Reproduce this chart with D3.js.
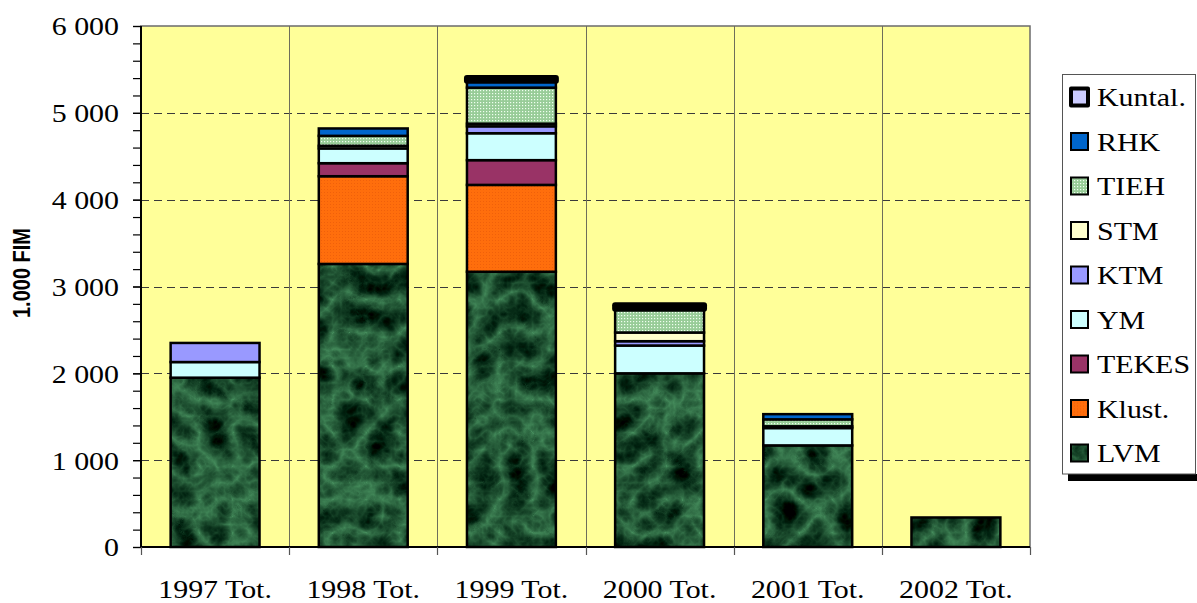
<!DOCTYPE html>
<html>
<head>
<meta charset="utf-8">
<script src="https://cdn.jsdelivr.net/npm/d3@7"></script>
<style>
  html, body { margin: 0; padding: 0; background: #fff; }
  svg { display: block; }
  .serif { font-family: "Liberation Serif", "Times New Roman", serif; fill: #000; }
</style>
</head>
<body>
<svg id="chart" width="1197" height="603"></svg>
<script>
// Funding by source, 1 000 FIM per year
const categories = ["1997 Tot.", "1998 Tot.", "1999 Tot.", "2000 Tot.", "2001 Tot.", "2002 Tot."];
const seriesNames = ["LVM", "Klust.", "TEKES", "YM", "KTM", "STM", "TIEH", "RHK", "Kuntal."];
const LVM    = [1950, 3260, 3170, 2000, 1170, 340];
const Klust  = [0, 1010, 1000, 0, 0, 0];
const TEKES  = [0, 150, 285, 0, 0, 0];
const YM     = [180, 170, 310, 320, 200, 0];
const KTM    = [220, 0, 80, 50, 0, 0];
const STM    = [0, 30, 30, 100, 20, 0];
const TIEH   = [0, 115, 415, 275, 80, 0];
const RHK    = [0, 85, 80, 0, 60, 0];
const Kuntal = [0, 0, 30, 40, 0, 0];
const yTicks = [0, 1000, 2000, 3000, 4000, 5000, 6000];
const yTitle = "1.000 FIM";

const seriesValues = [LVM, Klust, TEKES, YM, KTM, STM, TIEH, RHK, Kuntal];
const rows = categories.map((c, i) => {
  const r = { cat: c };
  seriesNames.forEach((s, k) => r[s] = seriesValues[k][i]);
  return r;
});

const svg = d3.select("#chart");
const defs = svg.append("defs");

// Green marble texture for LVM: dark base with soft, lighter veins
const marble = defs.append("filter").attr("id", "marble")
  .attr("x", 0).attr("y", 0).attr("width", 1).attr("height", 1)
  .attr("filterUnits", "objectBoundingBox")
  .attr("color-interpolation-filters", "sRGB");
marble.append("feTurbulence").attr("type", "turbulence")
  .attr("baseFrequency", "0.03").attr("numOctaves", 4).attr("seed", 11).attr("result", "noise");
marble.append("feColorMatrix").attr("in", "noise").attr("type", "matrix")
  .attr("values", "-0.45 0 0 0 0.27  -0.7 0 0 0 0.55  -0.5 0 0 0 0.36  0 0 0 0 1")
  .attr("result", "col");
marble.append("feComposite").attr("in", "col").attr("in2", "SourceGraphic").attr("operator", "in");

// Dotted light green fill for TIEH
const dots = defs.append("pattern").attr("id", "tieh")
  .attr("width", 3).attr("height", 3).attr("patternUnits", "userSpaceOnUse");
dots.append("rect").attr("width", 3).attr("height", 3).attr("fill", "#98cc98");
dots.append("rect").attr("width", 1.2).attr("height", 1.2).attr("fill", "#f0fff0");

// Fine grain for the orange series
const grain = defs.append("pattern").attr("id", "klust")
  .attr("width", 3).attr("height", 3).attr("patternUnits", "userSpaceOnUse");
grain.append("rect").attr("width", 3).attr("height", 3).attr("fill", "#ff6e0c");
grain.append("rect").attr("width", 1).attr("height", 1).attr("fill", "#f0600a");

const fills = {
  "LVM": "#234f30",
  "Klust.": "url(#klust)",
  "TEKES": "#993366",
  "YM": "#ccffff",
  "KTM": "#9999ff",
  "STM": "#ffffcc",
  "TIEH": "url(#tieh)",
  "RHK": "#0066cc",
  "Kuntal.": "#ccccff"
};

const plotLeft = 141, plotRight = 1030, plotTop = 26, plotBottom = 547;

const x = d3.scaleBand().domain(categories).range([plotLeft, plotRight])
  .paddingInner(0.4).paddingOuter(0.2);
const y = d3.scaleLinear().domain([0, 6000]).range([plotBottom, plotTop]);
const step = x.step();
const boundary = c => x(c) - (step - x.bandwidth()) / 2;

// Plot area
svg.append("rect").attr("x", plotLeft).attr("y", plotTop)
  .attr("width", plotRight - plotLeft).attr("height", plotBottom - plotTop)
  .attr("fill", "#ffff99").attr("stroke", "#6b6b6b").attr("stroke-width", 1.5);

// Horizontal dashed gridlines
svg.append("g").selectAll("line").data(yTicks.filter(v => v > 0 && v < 6000)).join("line")
  .attr("x1", plotLeft).attr("x2", plotRight)
  .attr("y1", d => Math.round(y(d)) + 0.5).attr("y2", d => Math.round(y(d)) + 0.5)
  .attr("stroke", "#3a3a3a").attr("stroke-width", 1).attr("stroke-dasharray", "8,5");

// Vertical gridlines between categories
svg.append("g").selectAll("line").data(categories.slice(1)).join("line")
  .attr("x1", d => Math.round(boundary(d)) + 0.5).attr("x2", d => Math.round(boundary(d)) + 0.5)
  .attr("y1", plotTop).attr("y2", plotBottom)
  .attr("stroke", "#6e6e5a").attr("stroke-width", 1);

// Stacked bars
const stack = d3.stack().keys(seriesNames)(rows);
const barG = svg.append("g");
stack.forEach(layer => {
  const key = layer.key;
  const segs = layer.filter(d => d[1] - d[0] > 0);
  const g = barG.append("g");
  if (key === "LVM") {
    g.selectAll("rect.base").data(segs).join("rect").attr("class", "base")
      .attr("x", d => x(d.data.cat)).attr("width", x.bandwidth())
      .attr("y", d => y(d[1])).attr("height", d => y(d[0]) - y(d[1]))
      .attr("fill", "#1d4a2a");
    g.selectAll("rect.tex").data(segs).join("rect").attr("class", "tex")
      .attr("x", d => x(d.data.cat)).attr("width", x.bandwidth())
      .attr("y", d => y(d[1])).attr("height", d => y(d[0]) - y(d[1]))
      .attr("fill", "#000").attr("filter", "url(#marble)");
    g.selectAll("rect.edge").data(segs).join("rect").attr("class", "edge")
      .attr("x", d => x(d.data.cat)).attr("width", x.bandwidth())
      .attr("y", d => y(d[1])).attr("height", d => y(d[0]) - y(d[1]))
      .attr("fill", "none").attr("stroke", "#000").attr("stroke-width", 2.5);
  } else {
    g.selectAll("rect").data(segs).join("rect")
      .attr("x", d => x(d.data.cat)).attr("width", x.bandwidth())
      .attr("y", d => y(d[1])).attr("height", d => y(d[0]) - y(d[1]))
      .attr("fill", fills[key]).attr("stroke", "#000")
      .attr("stroke-width", key === "Kuntal." ? 6 : 2.5)
      .attr("stroke-linejoin", key === "Kuntal." ? "round" : "miter");
  }
});

// Y axis with minor ticks every 200
const fmt = d3.formatLocale({ decimal: ",", thousands: "\u2009", grouping: [3], currency: ["", ""] }).format(",");
svg.append("g").attr("transform", `translate(${plotLeft},0)`)
  .call(d3.axisLeft(y).tickValues(d3.range(0, 6001, 200)).tickSize(8).tickFormat(""))
  .call(g => g.select(".domain").remove())
  .call(g => g.selectAll("line").attr("stroke", "#000").attr("stroke-width", 1.2));
const yAxis = svg.append("g").attr("transform", `translate(${plotLeft},0)`)
  .call(d3.axisLeft(y).tickValues(yTicks).tickSize(8).tickPadding(14)
    .tickFormat(d => fmt(d).replace("\u2009", " ")));
yAxis.select(".domain").attr("stroke", "#000").attr("stroke-width", 2).attr("d", `M0,${plotTop}V${plotBottom}`);
yAxis.selectAll("line").attr("stroke", "#000").attr("stroke-width", 1.2);
yAxis.selectAll("text").attr("class", "serif stretch").attr("font-size", 26)
  .attr("dy", "0.34em");
yAxis.attr("font-family", null).attr("font-size", null);

// X axis baseline and boundary ticks
svg.append("line").attr("x1", plotLeft).attr("x2", plotRight).attr("y1", plotBottom).attr("y2", plotBottom)
  .attr("stroke", "#000").attr("stroke-width", 2);
const edges = categories.map(boundary).concat([plotRight]);
svg.append("g").selectAll("line").data(edges).join("line")
  .attr("x1", d => Math.round(d) + 0.5).attr("x2", d => Math.round(d) + 0.5)
  .attr("y1", plotBottom).attr("y2", plotBottom + 8)
  .attr("stroke", "#555").attr("stroke-width", 1.2);
svg.append("g").selectAll("text").data(categories).join("text")
  .attr("class", "serif stretch").attr("font-size", 26)
  .attr("text-anchor", "middle")
  .attr("x", d => x(d) + x.bandwidth() / 2).attr("y", 598)
  .text(d => d);

// Y axis title
svg.append("text")
  .attr("transform", "translate(30,273) scale(1.2,1) rotate(-90)")
  .attr("text-anchor", "middle")
  .attr("font-family", "'Liberation Sans', Arial, sans-serif")
  .attr("font-weight", "bold").attr("font-size", 20)
  .text(yTitle);

// Legend
const lg = svg.append("g");
lg.append("rect").attr("x", 1068).attr("y", 474).attr("width", 140).attr("height", 7).attr("fill", "#000");
lg.append("rect").attr("x", 1062.5).attr("y", 74.5).attr("width", 133).attr("height", 399.5)
  .attr("fill", "#fff").attr("stroke", "#555").attr("stroke-width", 1);
const legendOrder = seriesNames.slice().reverse();
const item = lg.selectAll("g.item").data(legendOrder).join("g").attr("class", "item")
  .attr("transform", (d, i) => `translate(0,${97 + i * 44.5})`);
item.each(function (d) {
  const g = d3.select(this);
  if (d === "LVM") {
    g.append("rect").attr("x", 1071).attr("y", -8.5).attr("width", 17).attr("height", 17)
      .attr("fill", "#000").attr("filter", "url(#marble)");
    g.append("rect").attr("x", 1071).attr("y", -8.5).attr("width", 17).attr("height", 17)
      .attr("fill", "none").attr("stroke", "#000").attr("stroke-width", 2);
  } else {
    g.append("rect").attr("x", 1071).attr("y", -8.5).attr("width", 17).attr("height", 17)
      .attr("fill", fills[d]).attr("stroke", "#000")
      .attr("stroke-width", d === "Kuntal." ? 4 : 2)
      .attr("stroke-linejoin", d === "Kuntal." ? "round" : "miter");
  }
  g.append("text").attr("class", "serif stretch").attr("font-size", 26)
    .attr("x", 1097).attr("y", 9).text(d);
});

// Widen the serif labels horizontally
svg.selectAll("text.stretch").each(function () {
  const w = this.getComputedTextLength();
  d3.select(this).attr("textLength", w * 1.15).attr("lengthAdjust", "spacingAndGlyphs");
});
</script>
</body>
</html>
